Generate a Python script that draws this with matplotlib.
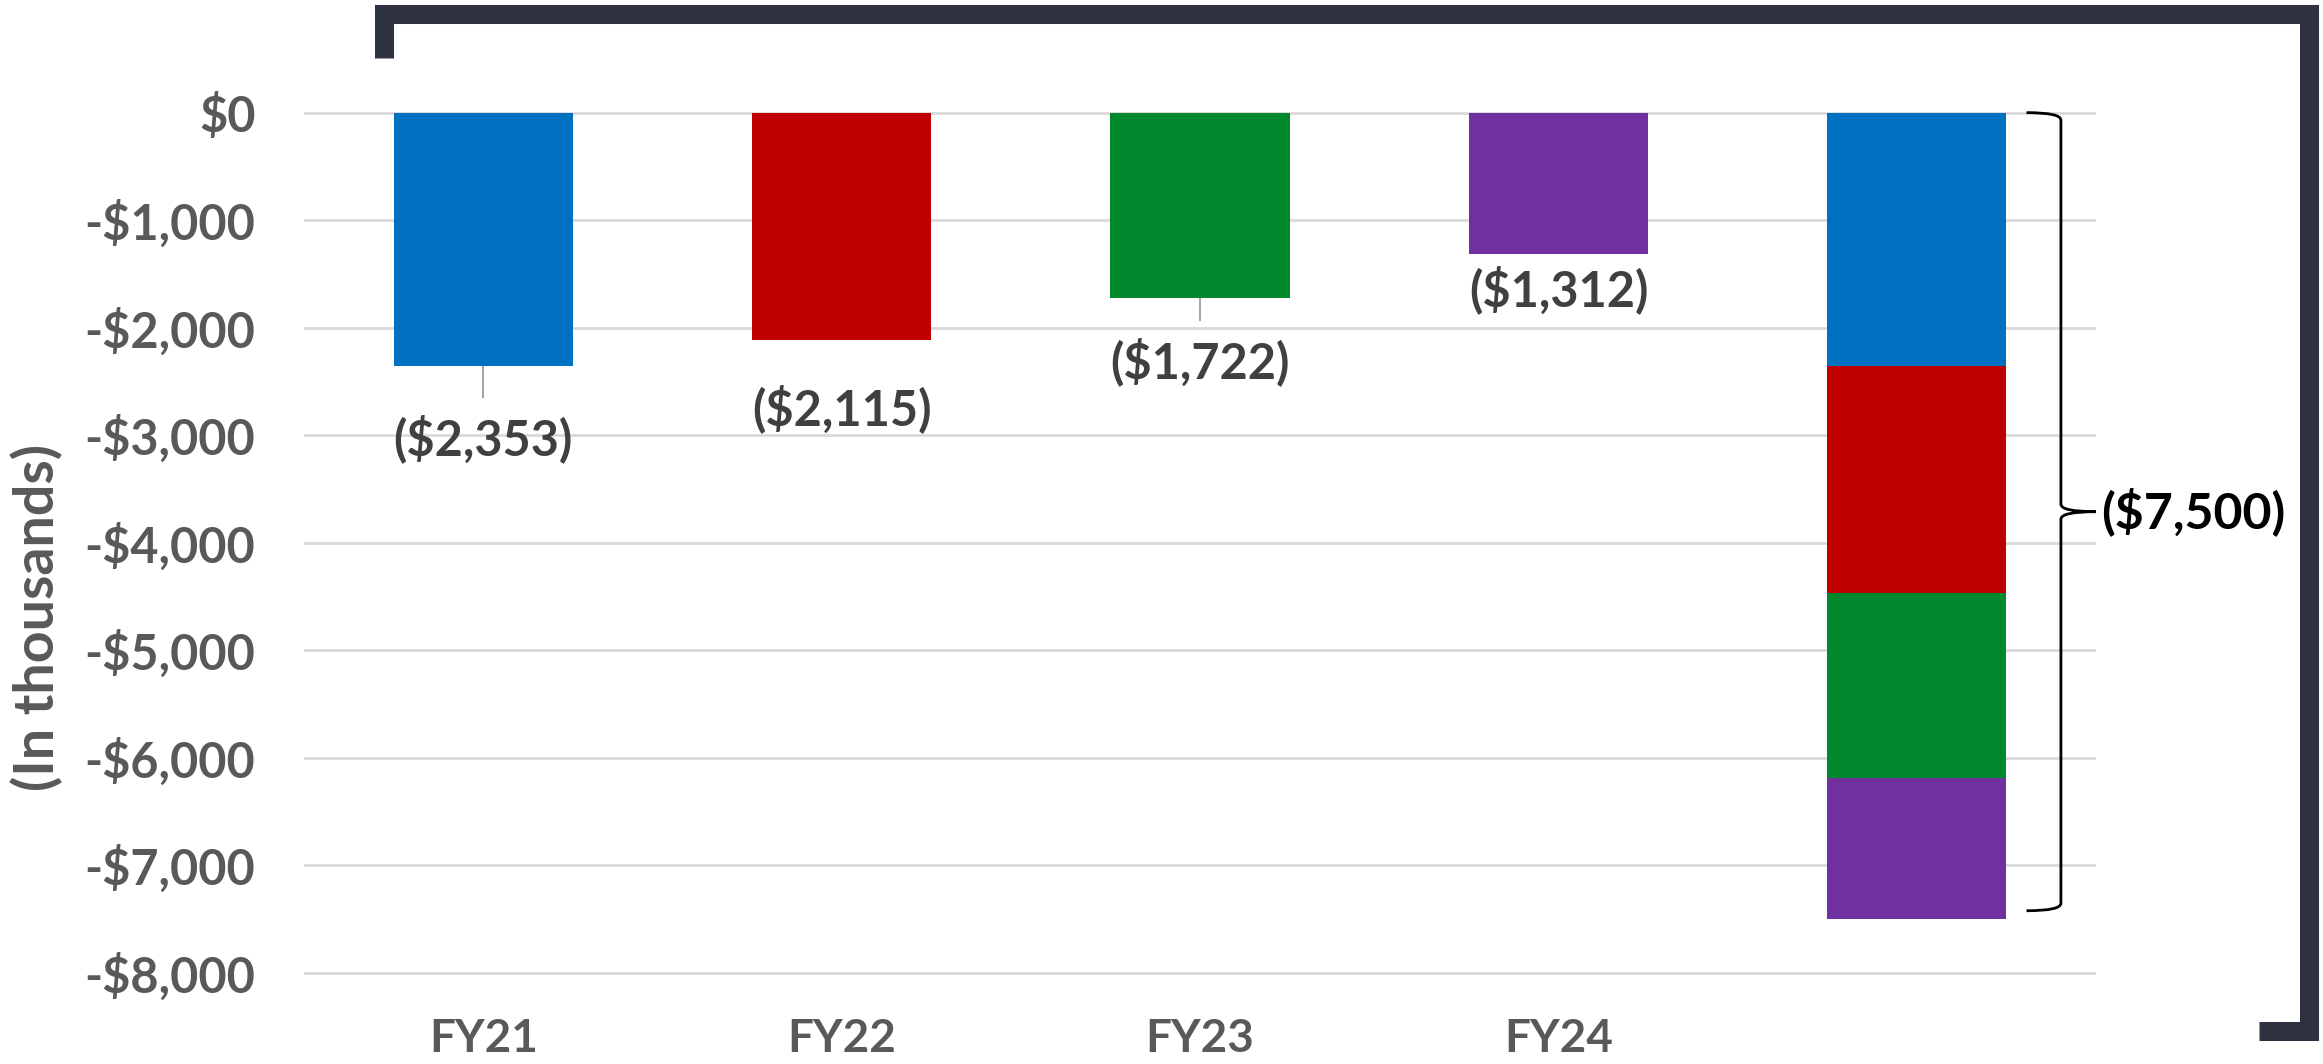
import numpy as np
import matplotlib.pyplot as plt
from matplotlib.path import Path
from matplotlib.patches import PathPatch
from matplotlib.ticker import FuncFormatter

plt.rcParams['font.family'] = ['Lato', 'DejaVu Sans']
plt.rcParams['font.weight'] = 'bold'

years = ['FY21', 'FY22', 'FY23', 'FY24']
losses = [2353, 2115, 1722, 1312]
colors = ['#0070C0', '#C00000', '#00882F', '#7030A0']
total_reported = 7500
# label centres (in thousands) as placed in the original
label_y = [-3030, -2750, -2320, -1650]
leader_end = [-2650, None, -1930, None]
yticks = np.arange(-8000, 1, 1000)

fig = plt.figure(figsize=(23.23, 10.64), dpi=100)
ax = fig.add_axes([0.1309, 0.0809, 0.9023 - 0.1309, 0.8992 - 0.0809])

x = np.arange(len(years))
vals = -np.array(losses)
ax.bar(x, vals, width=0.5, color=colors, zorder=2)

# stacked total bar
bottom = 0
for v, c in zip(vals, colors):
    ax.bar(len(years), v, width=0.5, bottom=bottom, color=c, zorder=2)
    bottom += v

# data labels
for i, v in enumerate(vals):
    ax.text(i, label_y[i], f'(${-v:,})', ha='center', va='center',
            fontsize=35, color='#404040', fontweight='bold')
    if leader_end[i] is not None:
        ax.plot([i, i], [v, leader_end[i]], color='#A6A6A6', lw=1.5, zorder=1)

# curly brace next to total bar
xs, xv, xt = 4.306, 4.402, 4.499
top, bot = 0, -7425
mid = (top + bot) / 2
verts = [(xs, top), (xv, top), (xv, top - 70),
         (xv, mid + 70),
         (xv, mid), (xt, mid),
         (xv, mid), (xv, mid - 70),
         (xv, bot + 70),
         (xv, bot), (xs, bot)]
codes = [Path.MOVETO, Path.CURVE3, Path.CURVE3,
         Path.LINETO,
         Path.CURVE3, Path.CURVE3,
         Path.CURVE3, Path.CURVE3,
         Path.LINETO,
         Path.CURVE3, Path.CURVE3]
ax.add_patch(PathPatch(Path(verts, codes), fill=False, edgecolor='black',
                       lw=2, clip_on=False, zorder=3))
ax.text(4.514, mid, f'(${total_reported:,})', ha='left', va='center',
        fontsize=36, color='black', fontweight='bold', clip_on=False)

ax.set_xlim(-0.5, 4.5)
ax.set_ylim(-8050, 50)
ax.set_yticks(yticks)
ax.yaxis.set_major_formatter(FuncFormatter(
    lambda v, p: '$0' if v == 0 else f'-${-v:,.0f}'))
ax.set_xticks(np.arange(5))
ax.set_xticklabels(years + [''])
ax.tick_params(axis='y', length=0, pad=35, labelsize=35, labelcolor='#595959')
ax.tick_params(axis='x', length=0, pad=29, labelsize=33, labelcolor='#595959')
ax.yaxis.grid(True, color='#D9D9D9', lw=2)
ax.set_axisbelow(True)
for s in ax.spines.values():
    s.set_visible(False)

fig.text(0.016, 0.42, '(In thousands)', rotation=90, ha='center', va='center',
         fontsize=40, color='#595959', fontweight='bold')

# dark frame bracket around the chart
fig.add_artist(plt.Line2D([0.1653, 0.1653, 0.99397, 0.99397, 0.9725],
                          [0.9455, 0.9873, 0.9873, 0.031, 0.031],
                          transform=fig.transFigure, color='#2E3240', lw=13.7,
                          solid_capstyle='butt', solid_joinstyle='miter'))

fig.savefig('out.png', dpi=100)
